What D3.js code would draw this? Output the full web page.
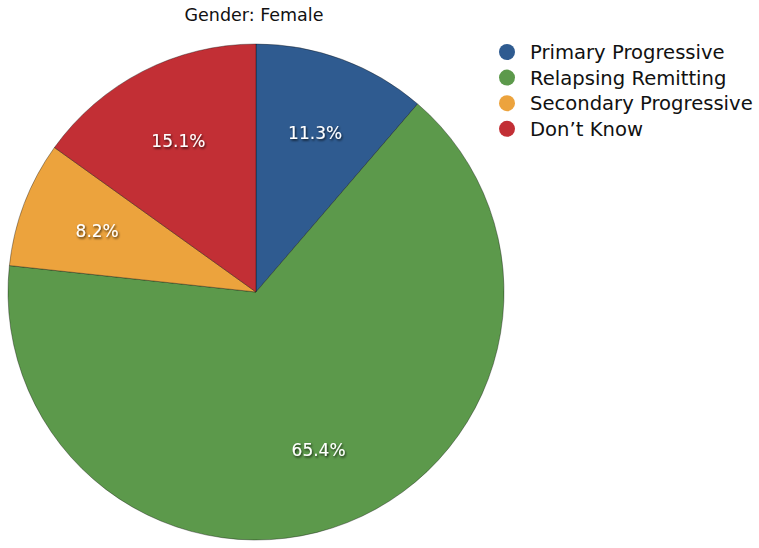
<!DOCTYPE html>
<html>
<head>
<meta charset="utf-8">
<script src="https://cdn.jsdelivr.net/npm/d3@7"></script>
<style>
  body { margin: 0; background: #fff; }
  text { font-family: "DejaVu Sans", "Liberation Sans", sans-serif; }
</style>
</head>
<body>
<script>
const categories = ['Primary Progressive', 'Relapsing Remitting', 'Secondary Progressive', "Don\u2019t Know"];
const values = [11.3, 65.4, 8.2, 15.1];
const colors = ['#2f5b90', '#5c994b', '#eca33d', '#c22f35'];

const width = 759, height = 548;
const cx = 256, cy = 292, r = 248;

const svg = d3.select('body').append('svg').attr('width', width).attr('height', height);

const defs = svg.append('defs');
const shadow = defs.append('filter').attr('id', 'tshadow').attr('x', '-20%').attr('y', '-40%').attr('width', '140%').attr('height', '180%');
shadow.append('feDropShadow').attr('dx', 1).attr('dy', 1.5).attr('stdDeviation', 1).attr('flood-color', '#000').attr('flood-opacity', 0.75);

const pie = d3.pie().sort(null).value((d) => d);
const arcs = pie(values);
const arc = d3.arc().innerRadius(0).outerRadius(r);
const labelArc = d3.arc().innerRadius(170).outerRadius(170);

const g = svg.append('g').attr('transform', `translate(${cx},${cy})`);

g.selectAll('path')
  .data(arcs)
  .enter()
  .append('path')
  .attr('d', arc)
  .attr('fill', (d, i) => colors[i])
  .attr('stroke', 'rgba(0,0,0,0.35)')
  .attr('stroke-width', 1);

g.selectAll('text.lbl')
  .data(arcs)
  .enter()
  .append('text')
  .attr('class', 'lbl')
  .attr('transform', (d) => `translate(${labelArc.centroid(d)})`)
  .attr('text-anchor', 'middle')
  .attr('dy', '0.35em')
  .attr('fill', '#fff')
  .attr('font-size', 17)
  .attr('filter', 'url(#tshadow)')
  .text((d) => d.value.toFixed(1) + '%');

svg.append('text')
  .attr('x', 254)
  .attr('y', 21)
  .attr('text-anchor', 'middle')
  .attr('font-size', 17.5)
  .attr('fill', '#111')
  .text('Gender: Female');

const legend = svg.append('g').attr('transform', 'translate(507,52)');
const items = legend.selectAll('g').data(categories).enter().append('g')
  .attr('transform', (d, i) => `translate(0,${i * 25.6})`);
items.append('circle').attr('r', 8).attr('fill', (d, i) => colors[i]);
items.append('text')
  .attr('x', 23)
  .attr('dy', '0.36em')
  .attr('font-size', 19.6)
  .attr('fill', '#111')
  .text((d) => d);
</script>
</body>
</html>
